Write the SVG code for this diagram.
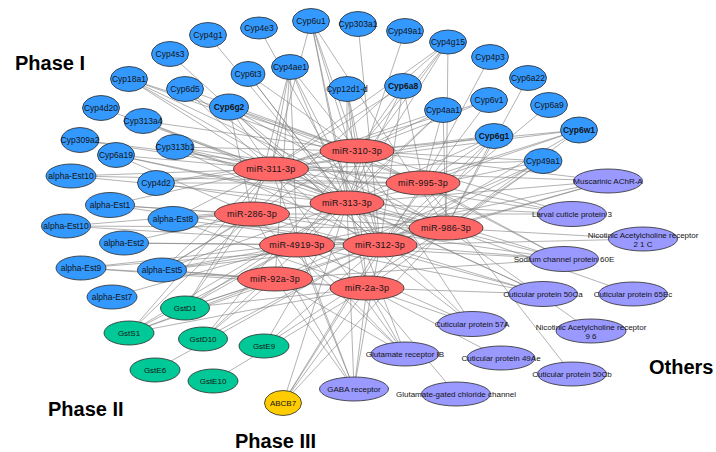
<svg xmlns="http://www.w3.org/2000/svg" width="716" height="452" viewBox="0 0 716 452">
<style>
.e path{fill:none;stroke:#7f7f7f;stroke-width:0.6}
ellipse{stroke:#2a2a2a;stroke-width:0.8}
.b{fill:#3399ff}.r{fill:#ff6666}.g{fill:#00c896}.p{fill:#9999ff}.y{fill:#ffcc00}
text{font-family:"Liberation Sans",Arial,sans-serif;text-anchor:middle;fill:#141414}
.t{font-size:8.5px}.tb{font-size:8.5px;font-weight:bold}.tm{font-size:9px;letter-spacing:0.3px}.ts{font-size:8px}
.h{font-size:20px;font-weight:bold;text-anchor:start;fill:#000}
</style>
<rect width="716" height="452" fill="#fff"/>
<g id="connectors" class="e">
<path d="M208 35L347 203"/>
<path d="M170 54L380 245"/>
<path d="M129 79L357 151M129 79L271 169M129 79L347 203M129 79L423 183M129 79L446 228"/>
<path d="M185 89L357 151M185 89L271 169M185 89L347 203"/>
<path d="M229 107L357 151M229 107L271 169M229 107L423 183M229 107L347 203M229 107L446 228M229 107L380 245M229 107L252 214"/>
<path d="M101 108L271 169"/>
<path d="M143 121L271 169M143 121L357 151M143 121L347 203"/>
<path d="M80 140L271 169M80 140L423 183"/>
<path d="M116 155L271 169M116 155L347 203M116 155L446 228M116 155L252 214"/>
<path d="M175 147L357 151M175 147L271 169M175 147L423 183M175 147L347 203M175 147L446 228M175 147L380 245"/>
<path d="M259 28L380 245"/>
<path d="M311 21L271 169M311 21L347 203M311 21L357 151M311 21L367 288M311 21L446 228M311 21L380 245"/>
<path d="M358 24L380 245"/>
<path d="M405 31L347 203"/>
<path d="M448 42L357 151M448 42L271 169M448 42L347 203M448 42L297 245M448 42L252 214M448 42L446 228"/>
<path d="M290 67L271 169M290 67L252 214M290 67L347 203M290 67L357 151M290 67L297 245M290 67L380 245M290 67L275 279"/>
<path d="M248 74L347 203M248 74L357 151M248 74L380 245"/>
<path d="M347 89L357 151M347 89L347 203M347 89L380 245M347 89L367 288"/>
<path d="M403 86L357 151M403 86L271 169M403 86L347 203M403 86L380 245M403 86L423 183"/>
<path d="M443 110L271 169M443 110L357 151M443 110L423 183M443 110L446 228M443 110L347 203M443 110L297 245"/>
<path d="M490 57L423 183"/>
<path d="M528 78L446 228"/>
<path d="M489 100L357 151M489 100L380 245M489 100L271 169"/>
<path d="M549 105L380 245"/>
<path d="M494 136L357 151M494 136L271 169M494 136L347 203M494 136L423 183M494 136L446 228M494 136L380 245M494 136L367 288"/>
<path d="M579 130L357 151M579 130L271 169M579 130L423 183M579 130L347 203M579 130L446 228M579 130L380 245"/>
<path d="M543 161L357 151M543 161L271 169M543 161L347 203M543 161L446 228M543 161L380 245M543 161L367 288M543 161L275 279"/>
<path d="M156 183L271 169M156 183L423 183M156 183L357 151M156 183L446 228"/>
<path d="M71 176L271 169M71 176L347 203M71 176L423 183"/>
<path d="M110 205L271 169M110 205L380 245M110 205L446 228M110 205L252 214"/>
<path d="M173 219L271 169M173 219L347 203M173 219L367 288M173 219L380 245M173 219L252 214"/>
<path d="M66 226L347 203M66 226L446 228M66 226L380 245"/>
<path d="M124 243L297 245M124 243L380 245M124 243L252 214"/>
<path d="M81 268L380 245M81 268L275 279M81 268L367 288M81 268L446 228"/>
<path d="M162 270L357 151M162 270L271 169M162 270L347 203M162 270L252 214M162 270L297 245M162 270L380 245M162 270L275 279M162 270L367 288M162 270L446 228"/>
<path d="M112 297L297 245"/>
<path d="M185 308L271 169M185 308L347 203M185 308L297 245M185 308L380 245M185 308L275 279M185 308L252 214M185 308L367 288"/>
<path d="M129 333L271 169M129 333L252 214M129 333L347 203M129 333L380 245M129 333L275 279M129 333L297 245M129 333L367 288"/>
<path d="M203 339L357 151M203 339L347 203M203 339L275 279M203 339L380 245"/>
<path d="M264 346L347 203M264 346L446 228M264 346L380 245"/>
<path d="M155 370L380 245"/>
<path d="M213 381L367 288"/>
<path d="M283 403L367 288M283 403L380 245M283 403L347 203M283 403L446 228M283 403L423 183"/>
<path d="M608 181L357 151M608 181L271 169M608 181L347 203M608 181L446 228M608 181L297 245M608 181L380 245"/>
<path d="M572 214L357 151M572 214L271 169M572 214L347 203M572 214L252 214M572 214L423 183"/>
<path d="M643 239L446 228M643 239L380 245"/>
<path d="M564 259L271 169M564 259L252 214M564 259L347 203M564 259L297 245M564 259L380 245M564 259L357 151M564 259L423 183M564 259L275 279"/>
<path d="M543 294L367 288M543 294L380 245M543 294L347 203M543 294L297 245M543 294L252 214M543 294L271 169"/>
<path d="M633 294L446 228"/>
<path d="M591 331L446 228"/>
<path d="M572 374L423 183"/>
<path d="M472 324L367 288M472 324L347 203M472 324L271 169M472 324L357 151M472 324L297 245"/>
<path d="M501 358L367 288"/>
<path d="M405 354L367 288M405 354L275 279M405 354L271 169M405 354L252 214M405 354L347 203M405 354L297 245"/>
<path d="M354 389L367 288M354 389L275 279M354 389L297 245M354 389L252 214M354 389L271 169M354 389L380 245M354 389L347 203"/>
<path d="M456 394L367 288"/>
</g>
<g id="Cyp4g1"><ellipse class="b" cx="208" cy="35" rx="18.5" ry="12.5"/><text class="t" x="208" y="38">Cyp4g1</text></g>
<g id="Cyp4s3"><ellipse class="b" cx="170" cy="54" rx="18.5" ry="12.5"/><text class="t" x="170" y="57">Cyp4s3</text></g>
<g id="Cyp18a1"><ellipse class="b" cx="129" cy="79" rx="18.5" ry="12.5"/><text class="t" x="129" y="82">Cyp18a1</text></g>
<g id="Cyp6d5"><ellipse class="b" cx="185" cy="89" rx="18.5" ry="12.5"/><text class="t" x="185" y="92">Cyp6d5</text></g>
<g id="Cyp6g2"><ellipse class="b" cx="229" cy="107" rx="19.5" ry="13"/><text class="tb" x="229" y="110">Cyp6g2</text></g>
<g id="Cyp4d20"><ellipse class="b" cx="101" cy="108" rx="18.5" ry="12.5"/><text class="t" x="101" y="111">Cyp4d20</text></g>
<g id="Cyp313a4"><ellipse class="b" cx="143" cy="121" rx="19" ry="12.5"/><text class="t" x="143" y="124">Cyp313a4</text></g>
<g id="Cyp309a2"><ellipse class="b" cx="80" cy="140" rx="19" ry="12.5"/><text class="t" x="80" y="143">Cyp309a2</text></g>
<g id="Cyp6a19"><ellipse class="b" cx="116" cy="155" rx="18.5" ry="12.5"/><text class="t" x="116" y="158">Cyp6a19</text></g>
<g id="Cyp313b1"><ellipse class="b" cx="175" cy="147" rx="19" ry="12.5"/><text class="t" x="175" y="150">Cyp313b1</text></g>
<g id="Cyp4e3"><ellipse class="b" cx="259" cy="28" rx="18.5" ry="11"/><text class="t" x="259" y="31">Cyp4e3</text></g>
<g id="Cyp6u1"><ellipse class="b" cx="311" cy="21" rx="18.5" ry="12.5"/><text class="t" x="311" y="24">Cyp6u1</text></g>
<g id="Cyp303a1"><ellipse class="b" cx="358" cy="24" rx="18.5" ry="12.5"/><text class="t" x="358" y="27">Cyp303a1</text></g>
<g id="Cyp49a1-top"><ellipse class="b" cx="405" cy="31" rx="18.5" ry="12.5"/><text class="t" x="405" y="34">Cyp49a1</text></g>
<g id="Cyp4g15"><ellipse class="b" cx="448" cy="42" rx="18.5" ry="12"/><text class="t" x="448" y="45">Cyp4g15</text></g>
<g id="Cyp4ae1"><ellipse class="b" cx="290" cy="67" rx="18.5" ry="12.5"/><text class="t" x="290" y="70">Cyp4ae1</text></g>
<g id="Cyp6t3"><ellipse class="b" cx="248" cy="74" rx="17" ry="12.5"/><text class="t" x="248" y="77">Cyp6t3</text></g>
<g id="Cyp12d1-d"><ellipse class="b" cx="347" cy="89" rx="18.5" ry="12.5"/><text class="t" x="347" y="92">Cyp12d1-d</text></g>
<g id="Cyp6a8"><ellipse class="b" cx="403" cy="86" rx="18.5" ry="12.5"/><text class="tb" x="403" y="89">Cyp6a8</text></g>
<g id="Cyp4aa1"><ellipse class="b" cx="443" cy="110" rx="18.5" ry="12.5"/><text class="t" x="443" y="113">Cyp4aa1</text></g>
<g id="Cyp4p3"><ellipse class="b" cx="490" cy="57" rx="18.5" ry="12.5"/><text class="t" x="490" y="60">Cyp4p3</text></g>
<g id="Cyp6a22"><ellipse class="b" cx="528" cy="78" rx="18.5" ry="12.5"/><text class="t" x="528" y="81">Cyp6a22</text></g>
<g id="Cyp6v1"><ellipse class="b" cx="489" cy="100" rx="18.5" ry="12.5"/><text class="t" x="489" y="103">Cyp6v1</text></g>
<g id="Cyp6a9"><ellipse class="b" cx="549" cy="105" rx="18.5" ry="12.5"/><text class="t" x="549" y="108">Cyp6a9</text></g>
<g id="Cyp6g1"><ellipse class="b" cx="494" cy="136" rx="19" ry="12.5"/><text class="tb" x="494" y="139">Cyp6g1</text></g>
<g id="Cyp6w1"><ellipse class="b" cx="579" cy="130" rx="18.5" ry="13"/><text class="tb" x="579" y="133">Cyp6w1</text></g>
<g id="Cyp49a1"><ellipse class="b" cx="543" cy="161" rx="19" ry="12.5"/><text class="t" x="543" y="164">Cyp49a1</text></g>
<g id="Cyp4d2"><ellipse class="b" cx="156" cy="183" rx="18.5" ry="12.5"/><text class="t" x="156" y="186">Cyp4d2</text></g>
<g id="alpha-Est10-a"><ellipse class="b" cx="71" cy="176" rx="25" ry="12"/><text class="t" x="71" y="179">alpha-Est10</text></g>
<g id="alpha-Est1"><ellipse class="b" cx="110" cy="205" rx="24.5" ry="12.5"/><text class="t" x="110" y="208">alpha-Est1</text></g>
<g id="alpha-Est8"><ellipse class="b" cx="173" cy="219" rx="25" ry="12.5"/><text class="t" x="173" y="222">alpha-Est8</text></g>
<g id="alpha-Est10-b"><ellipse class="b" cx="66" cy="226" rx="24.5" ry="12"/><text class="t" x="66" y="229">alpha-Est10</text></g>
<g id="alpha-Est2"><ellipse class="b" cx="124" cy="243" rx="24.5" ry="12"/><text class="t" x="124" y="246">alpha-Est2</text></g>
<g id="alpha-Est9"><ellipse class="b" cx="81" cy="268" rx="25" ry="12"/><text class="t" x="81" y="271">alpha-Est9</text></g>
<g id="alpha-Est5"><ellipse class="b" cx="162" cy="270" rx="24.5" ry="12"/><text class="t" x="162" y="273">alpha-Est5</text></g>
<g id="alpha-Est7"><ellipse class="b" cx="112" cy="297" rx="25" ry="12"/><text class="t" x="112" y="300">alpha-Est7</text></g>
<g id="miR-310-3p"><ellipse class="r" cx="357" cy="151" rx="37" ry="12"/><text class="tm" x="357" y="154">miR-310-3p</text></g>
<g id="miR-311-3p"><ellipse class="r" cx="271" cy="169" rx="37.5" ry="12"/><text class="tm" x="271" y="172">miR-311-3p</text></g>
<g id="miR-995-3p"><ellipse class="r" cx="423" cy="183" rx="37" ry="12"/><text class="tm" x="423" y="186">miR-995-3p</text></g>
<g id="miR-313-3p"><ellipse class="r" cx="347" cy="203" rx="37" ry="12"/><text class="tm" x="347" y="206">miR-313-3p</text></g>
<g id="miR-286-3p"><ellipse class="r" cx="252" cy="214" rx="37.5" ry="12"/><text class="tm" x="252" y="217">miR-286-3p</text></g>
<g id="miR-986-3p"><ellipse class="r" cx="446" cy="228" rx="37" ry="12"/><text class="tm" x="446" y="231">miR-986-3p</text></g>
<g id="miR-4919-3p"><ellipse class="r" cx="297" cy="245" rx="37.5" ry="12"/><text class="tm" x="297" y="248">miR-4919-3p</text></g>
<g id="miR-312-3p"><ellipse class="r" cx="380" cy="245" rx="37" ry="12"/><text class="tm" x="380" y="248">miR-312-3p</text></g>
<g id="miR-92a-3p"><ellipse class="r" cx="275" cy="279" rx="37.5" ry="12"/><text class="tm" x="275" y="282">miR-92a-3p</text></g>
<g id="miR-2a-3p"><ellipse class="r" cx="367" cy="288" rx="37" ry="12"/><text class="tm" x="367" y="291">miR-2a-3p</text></g>
<g id="GstD1"><ellipse class="g" cx="185" cy="308" rx="24.5" ry="12"/><text class="ts" x="185" y="311">GstD1</text></g>
<g id="GstS1"><ellipse class="g" cx="129" cy="333" rx="25" ry="12"/><text class="ts" x="129" y="336">GstS1</text></g>
<g id="GstD10"><ellipse class="g" cx="203" cy="339" rx="24.5" ry="12"/><text class="ts" x="203" y="342">GstD10</text></g>
<g id="GstE9"><ellipse class="g" cx="264" cy="346" rx="25" ry="12"/><text class="ts" x="264" y="349">GstE9</text></g>
<g id="GstE6"><ellipse class="g" cx="155" cy="370" rx="25" ry="12"/><text class="ts" x="155" y="373">GstE6</text></g>
<g id="GstE10"><ellipse class="g" cx="213" cy="381" rx="25" ry="12"/><text class="ts" x="213" y="384">GstE10</text></g>
<g id="ABCB7"><ellipse class="y" cx="283" cy="403" rx="18.5" ry="12.5"/><text class="ts" x="283" y="406">ABCB7</text></g>
<g id="Muscarinic-AChR-A"><ellipse class="p" cx="608" cy="181" rx="34.5" ry="12"/><text class="ts" x="608" y="184">Muscarinic AChR-A</text></g>
<g id="Larval-cuticle-protein-3"><ellipse class="p" cx="572" cy="214" rx="34.5" ry="12.5"/><text class="ts" x="572" y="217">Larval cuticle protein 3</text></g>
<g id="NAChR-21C"><ellipse class="p" cx="643" cy="239" rx="34.5" ry="12"/><text class="ts" x="643" y="238">Nicotinic Acetylcholine receptor</text><text class="ts" x="643" y="247">2 1 C</text></g>
<g id="Sodium-channel-protein-60E"><ellipse class="p" cx="564" cy="259" rx="34.5" ry="12.5"/><text class="ts" x="564" y="262">Sodium channel protein 60E</text></g>
<g id="Cuticular-protein-50Ca"><ellipse class="p" cx="543" cy="294" rx="34.5" ry="12.5"/><text class="ts" x="543" y="297">Cuticular protein 50Ca</text></g>
<g id="Cuticular-protein-65Ec"><ellipse class="p" cx="633" cy="294" rx="34.5" ry="12"/><text class="ts" x="633" y="297">Cuticular protein 65Ec</text></g>
<g id="NAChR-96"><ellipse class="p" cx="591" cy="331" rx="35" ry="12"/><text class="ts" x="591" y="330">Nicotinic Acetylcholine receptor</text><text class="ts" x="591" y="339">9 6</text></g>
<g id="Cuticular-protein-50Cb"><ellipse class="p" cx="572" cy="374" rx="34.5" ry="12"/><text class="ts" x="572" y="377">Cuticular protein 50Cb</text></g>
<g id="Cuticular-protein-57A"><ellipse class="p" cx="472" cy="324" rx="34.5" ry="12.5"/><text class="ts" x="472" y="327">Cuticular protein 57A</text></g>
<g id="Cuticular-protein-49Ae"><ellipse class="p" cx="501" cy="358" rx="34" ry="12"/><text class="ts" x="501" y="361">Cuticular protein 49Ae</text></g>
<g id="Glutamate-receptor-IB"><ellipse class="p" cx="405" cy="354" rx="34" ry="12"/><text class="ts" x="405" y="357">Glutamate receptor IB</text></g>
<g id="GABA-receptor"><ellipse class="p" cx="354" cy="389" rx="34.5" ry="12"/><text class="ts" x="354" y="392">GABA receptor</text></g>
<g id="Glutamate-gated-chloride-channel"><ellipse class="p" cx="456" cy="394" rx="34.5" ry="12"/><text class="ts" x="456" y="397">Glutamate-gated chloride channel</text></g>
<text class="h" x="15" y="70">Phase I</text>
<text class="h" x="48" y="416">Phase II</text>
<text class="h" x="235" y="448">Phase III</text>
<text class="h" x="649" y="374">Others</text>
</svg>
